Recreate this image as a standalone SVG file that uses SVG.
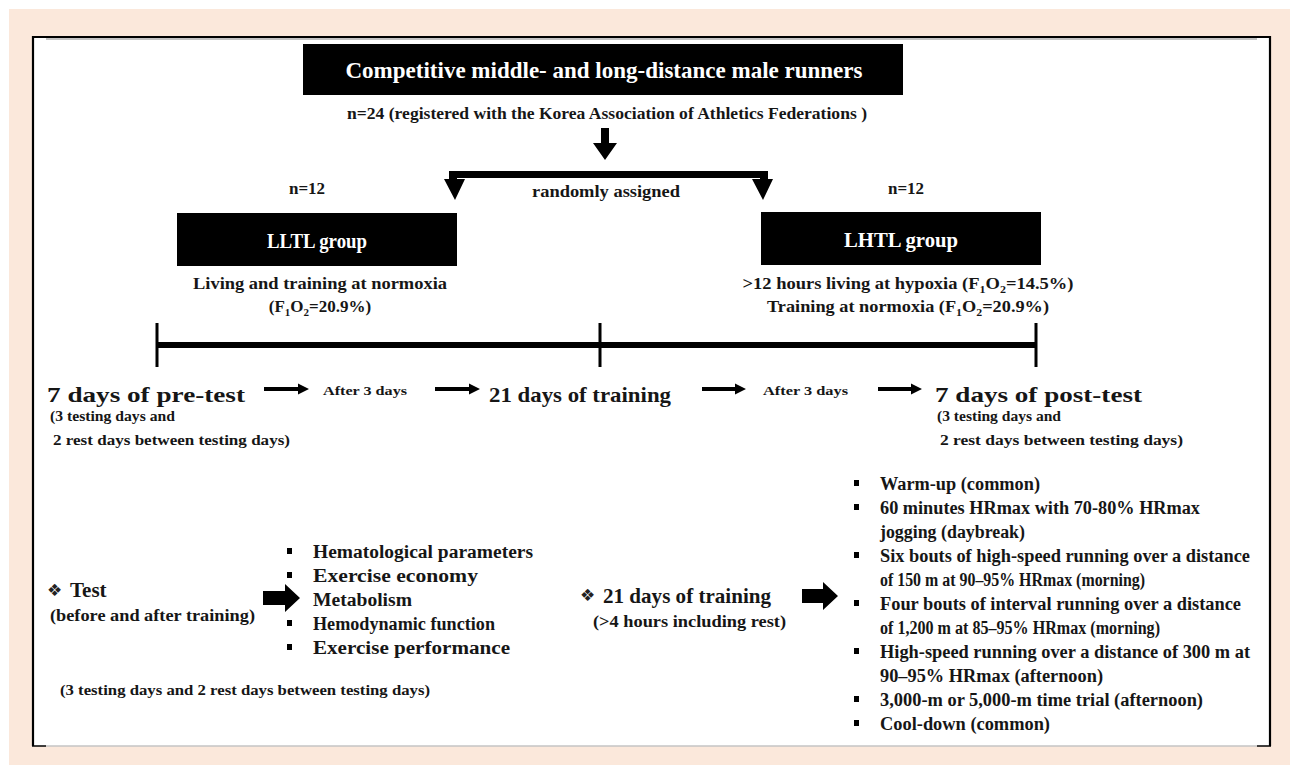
<svg xmlns="http://www.w3.org/2000/svg" width="1290" height="765" viewBox="0 0 1290 765">
<style>
.t{font-family:"Liberation Serif","Times New Roman",serif;font-weight:bold;fill:#161616}
.w{font-family:"Liberation Serif","Times New Roman",serif;font-weight:bold;fill:#fff}
.c{text-anchor:middle}
.box{fill:#000}
.ln{fill:#000}
.dia{font-family:"DejaVu Sans","Noto Sans",sans-serif;font-weight:normal;fill:#222;font-variant-emoji:text}
</style>
<rect x="0" y="0" width="1290" height="765" fill="#fff"/>
<rect x="9" y="9" width="1281" height="756" fill="#fbe8db"/>
<rect x="33" y="37" width="1237" height="709" fill="#fff"/>
<path d="M33,746 V37 H1270 V746" fill="none" stroke="#000" stroke-width="2.2"/>
<line x1="46" y1="39" x2="1257" y2="39" stroke="#888" stroke-width="1.2"/>
<line x1="46" y1="746" x2="1257" y2="746" stroke="#c4c4c4" stroke-width="1.5"/>
<line x1="32" y1="746" x2="46" y2="746" stroke="#000" stroke-width="1.5"/>
<line x1="1257" y1="746" x2="1271" y2="746" stroke="#000" stroke-width="1.5"/>

<g id="title">
<rect class="box" x="303" y="44" width="600" height="51"/>
<text class="w c" x="604" y="78" font-size="24" textLength="517" lengthAdjust="spacingAndGlyphs">Competitive middle- and long-distance male runners</text>
</g>
<g id="n24">
<text class="t c" x="607" y="119" font-size="17" textLength="520" lengthAdjust="spacingAndGlyphs">n=24 (registered with the Korea Association of Athletics Federations )</text>
</g>
<g id="assign">
<text class="t c" x="606" y="197" font-size="16" textLength="148" lengthAdjust="spacingAndGlyphs">randomly assigned</text>
</g>
<g id="lltl">
<text class="t c" x="307" y="194" font-size="17">n=12</text>
<rect class="box" x="177" y="213" width="280" height="53"/>
<text class="w c" x="317" y="248" font-size="21" textLength="100" lengthAdjust="spacingAndGlyphs">LLTL group</text>
<text class="t c" x="320" y="289" font-size="17" textLength="254" lengthAdjust="spacingAndGlyphs">Living and training at normoxia</text>
<text class="t c" x="320" y="312" font-size="17">(F<tspan font-size="11" dy="4">1</tspan><tspan dy="-4">O</tspan><tspan font-size="11" dy="4">2</tspan><tspan dy="-4">=20.9%)</tspan></text>
</g>
<g id="lhtl">
<text class="t c" x="906" y="194" font-size="17">n=12</text>
<rect class="box" x="761" y="212" width="280" height="53"/>
<text class="w c" x="901" y="247" font-size="21" textLength="114" lengthAdjust="spacingAndGlyphs">LHTL group</text>
<text class="t c" x="908" y="289" font-size="17" textLength="331" lengthAdjust="spacingAndGlyphs">&gt;12 hours living at hypoxia (F<tspan font-size="11" dy="4">1</tspan><tspan dy="-4">O</tspan><tspan font-size="11" dy="4">2</tspan><tspan dy="-4">=14.5%)</tspan></text>
<text class="t c" x="908" y="312" font-size="17" textLength="282" lengthAdjust="spacingAndGlyphs">Training at normoxia (F<tspan font-size="11" dy="4">1</tspan><tspan dy="-4">O</tspan><tspan font-size="11" dy="4">2</tspan><tspan dy="-4">=20.9%)</tspan></text>
</g>

<g id="connectors">
<path class="ln" d="M601,128 H609 V143 H617 L605,160 L593,143 H601 Z"/>
<path class="ln" d="M449,171 H768 V179 H773 L763,200 L752,179 H760 V178 H457 V179 H465 L455,200 L444,179 H449 Z"/>
<rect class="ln" x="157" y="342" width="880" height="6"/>
<rect class="ln" x="155.5" y="323" width="3" height="44"/>
<rect class="ln" x="598.5" y="323" width="3" height="44"/>
<rect class="ln" x="1034.5" y="323" width="3" height="44"/>
<path class="ln" d="M264,387 H298 V383.5 L309,389 L298,394.5 V391 H264 Z"/>
<path class="ln" d="M435,387 H469 V383.5 L480,389 L469,394.5 V391 H435 Z"/>
<path class="ln" d="M702,387 H735 V383.5 L746,389 L735,394.5 V391 H702 Z"/>
<path class="ln" d="M878,387 H911 V383.5 L922,389 L911,394.5 V391 H878 Z"/>
<path class="ln" d="M263,591 H285 V584 L300,598 L285,612 V605 H263 Z"/>
<path class="ln" d="M802,589 H823 V582 L838,596 L823,610 V603 H802 Z"/>
</g>

<g id="timeline-labels">
<text class="t" x="47" y="402" font-size="22" textLength="198" lengthAdjust="spacingAndGlyphs">7 days of pre-test</text>
<text class="t" x="50" y="421" font-size="15" textLength="125" lengthAdjust="spacingAndGlyphs">(3 testing days and</text>
<text class="t" x="53" y="445" font-size="15" textLength="237" lengthAdjust="spacingAndGlyphs">2 rest days between testing days)</text>
<text class="t" x="323" y="395" font-size="13" textLength="84" lengthAdjust="spacingAndGlyphs">After 3 days</text>
<text class="t" x="489" y="402" font-size="22" textLength="182" lengthAdjust="spacingAndGlyphs">21 days of training</text>
<text class="t" x="763" y="395" font-size="13" textLength="85" lengthAdjust="spacingAndGlyphs">After 3 days</text>
<text class="t" x="935" y="402" font-size="22" textLength="207" lengthAdjust="spacingAndGlyphs">7 days of post-test</text>
<text class="t" x="937" y="421" font-size="15" textLength="124" lengthAdjust="spacingAndGlyphs">(3 testing days and</text>
<text class="t" x="940" y="445" font-size="15" textLength="243" lengthAdjust="spacingAndGlyphs">2 rest days between testing days)</text>
</g>

<g id="test">
<text class="dia" x="47" y="596" font-size="17">❖&#xFE0E;</text>
<text class="t" x="70" y="597" font-size="21">Test</text>
<text class="t" x="50" y="621" font-size="17" textLength="205" lengthAdjust="spacingAndGlyphs">(before and after training)</text>
<text class="t" x="60" y="695" font-size="15" textLength="370" lengthAdjust="spacingAndGlyphs">(3 testing days and 2 rest days between testing days)</text>
</g>
<g id="test-items">
<rect class="ln" x="287" y="548" width="5" height="6"/>
<rect class="ln" x="287" y="572" width="5" height="6"/>
<rect class="ln" x="287" y="596" width="5" height="6"/>
<rect class="ln" x="287" y="620" width="5" height="6"/>
<rect class="ln" x="287" y="644" width="5" height="6"/>
<text class="t" x="313" y="558" font-size="18" textLength="220" lengthAdjust="spacingAndGlyphs">Hematological parameters</text>
<text class="t" x="313" y="582" font-size="18" textLength="165" lengthAdjust="spacingAndGlyphs">Exercise economy</text>
<text class="t" x="313" y="606" font-size="18" textLength="99" lengthAdjust="spacingAndGlyphs">Metabolism</text>
<text class="t" x="313" y="630" font-size="18" textLength="182" lengthAdjust="spacingAndGlyphs">Hemodynamic function</text>
<text class="t" x="313" y="654" font-size="18" textLength="197" lengthAdjust="spacingAndGlyphs">Exercise performance</text>
</g>

<g id="training">
<text class="dia" x="580" y="601" font-size="17">❖&#xFE0E;</text>
<text class="t" x="603" y="603" font-size="21" textLength="168" lengthAdjust="spacingAndGlyphs">21 days of training</text>
<text class="t" x="593" y="627" font-size="17" textLength="193" lengthAdjust="spacingAndGlyphs">(&gt;4 hours including rest)</text>
</g>
<g id="training-items">
<rect class="ln" x="854" y="480" width="5" height="6"/>
<rect class="ln" x="854" y="504" width="5" height="6"/>
<rect class="ln" x="854" y="552" width="5" height="6"/>
<rect class="ln" x="854" y="600" width="5" height="6"/>
<rect class="ln" x="854" y="648" width="5" height="6"/>
<rect class="ln" x="854" y="696" width="5" height="6"/>
<rect class="ln" x="854" y="720" width="5" height="6"/>
<text class="t" x="880" y="490" font-size="18" textLength="160" lengthAdjust="spacingAndGlyphs">Warm-up (common)</text>
<text class="t" x="880" y="514" font-size="18" textLength="320" lengthAdjust="spacingAndGlyphs">60 minutes HRmax with 70-80% HRmax</text>
<text class="t" x="880" y="538" font-size="18" textLength="145" lengthAdjust="spacingAndGlyphs">jogging (daybreak)</text>
<text class="t" x="880" y="562" font-size="18" textLength="370" lengthAdjust="spacingAndGlyphs">Six bouts of high-speed running over a distance</text>
<text class="t" x="880" y="586" font-size="18" textLength="265" lengthAdjust="spacingAndGlyphs">of 150 m at 90–95% HRmax (morning)</text>
<text class="t" x="880" y="610" font-size="18" textLength="361" lengthAdjust="spacingAndGlyphs">Four bouts of interval running over a distance</text>
<text class="t" x="880" y="634" font-size="18" textLength="280" lengthAdjust="spacingAndGlyphs">of 1,200 m at 85–95% HRmax (morning)</text>
<text class="t" x="880" y="658" font-size="18" textLength="370" lengthAdjust="spacingAndGlyphs">High-speed running over a distance of 300 m at</text>
<text class="t" x="880" y="682" font-size="18" textLength="223" lengthAdjust="spacingAndGlyphs">90–95% HRmax (afternoon)</text>
<text class="t" x="880" y="706" font-size="18" textLength="323" lengthAdjust="spacingAndGlyphs">3,000-m or 5,000-m time trial (afternoon)</text>
<text class="t" x="880" y="730" font-size="18" textLength="170" lengthAdjust="spacingAndGlyphs">Cool-down (common)</text>
</g>
</svg>
